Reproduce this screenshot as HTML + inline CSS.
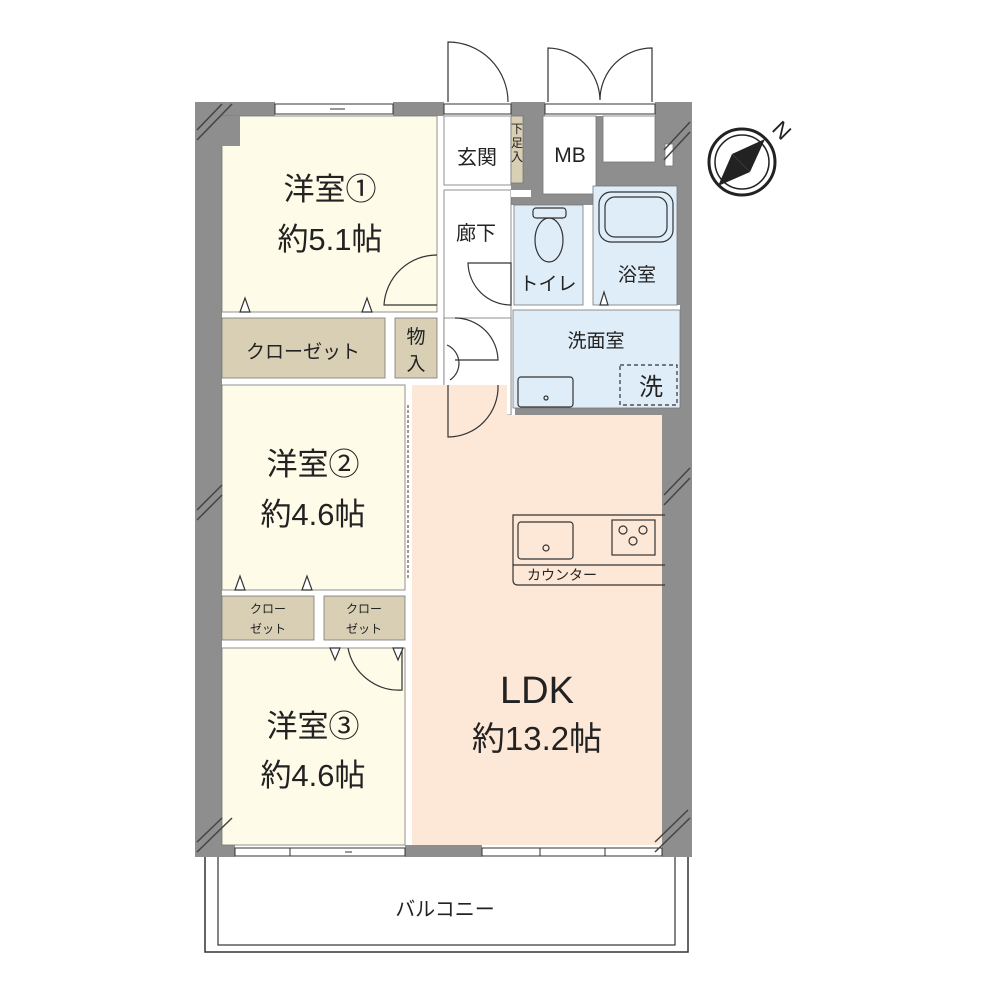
<!DOCTYPE html>
<html><head><meta charset="utf-8"><style>
html,body{margin:0;padding:0;background:#fff;}
svg{display:block;}
text{font-family:"Liberation Sans","Noto Sans CJK JP",sans-serif;fill:#222;}
</style></head><body>
<svg width="1000" height="1000" viewBox="0 0 1000 1000" xmlns="http://www.w3.org/2000/svg">
<!-- balcony -->
<rect x="205" y="855" width="483" height="97" fill="#fff" stroke="#333" stroke-width="1.5"/>
<rect x="218" y="855" width="457" height="90" fill="#fff" stroke="#333" stroke-width="1.2"/>
<!-- outer walls -->
<rect x="195" y="102" width="497" height="755" fill="#8e8e8e"/>
<!-- white wall gaps -->
<g fill="#fff">
<rect x="222" y="312" width="215" height="6"/>
<rect x="222" y="378" width="222" height="7"/>
<rect x="222" y="590" width="190" height="6"/>
<rect x="222" y="640" width="190" height="8"/>
<rect x="385" y="312" width="10" height="70"/>
<rect x="314" y="590" width="10" height="55"/>
<rect x="405" y="385" width="7" height="460"/>
<rect x="437" y="116" width="7" height="300"/>
<rect x="444" y="185" width="67" height="5"/>
<rect x="511" y="205" width="3" height="210"/>
<rect x="513" y="305" width="167" height="5"/>
<rect x="583" y="205" width="10" height="100"/>
<rect x="507" y="408" width="8" height="42"/>
<rect x="275" y="102" width="118" height="14"/>
<rect x="444" y="102" width="67" height="14"/>
<rect x="545" y="102" width="110" height="14"/>
<rect x="235" y="845" width="170" height="12"/>
<rect x="482" y="845" width="180" height="12"/>
</g>
<!-- rooms -->
<g stroke="#777" stroke-width="0.8">
<rect x="222" y="116" width="215" height="196" fill="#fefbe8"/>
<rect x="444" y="116" width="67" height="69" fill="#fff"/>
<rect x="511" y="116" width="12" height="67" fill="#d8cfb5"/>
<rect x="444" y="190" width="67" height="225" fill="#fff"/>
<rect x="543" y="116" width="53" height="78" fill="#fff"/>
<rect x="603" y="116" width="52" height="46" fill="#fff"/>
<rect x="514" y="205" width="69" height="100" fill="#deedf8"/>
<rect x="593" y="186" width="84" height="119" fill="#deedf8"/>
<rect x="513" y="310" width="167" height="98" fill="#deedf8"/>
<rect x="222" y="318" width="163" height="60" fill="#d8cfb5"/>
<rect x="395" y="318" width="42" height="60" fill="#d8cfb5"/>
<rect x="444" y="318" width="67" height="97" fill="#fff"/>
<rect x="222" y="385" width="183" height="205" fill="#fefbe8"/>
<rect x="222" y="596" width="92" height="44" fill="#d8cfb5"/>
<rect x="324" y="596" width="81" height="44" fill="#d8cfb5"/>
<rect x="222" y="648" width="183" height="197" fill="#fefbe8"/>
</g>
<rect x="412" y="415" width="250" height="430" fill="#fde8d8"/>
<rect x="412" y="385" width="95" height="30" fill="#fde8d8"/>
<rect x="195" y="116" width="45" height="30" fill="#8e8e8e"/>
<rect x="511" y="190" width="20" height="7" fill="#fff"/>
<rect x="665" y="144" width="8" height="22" fill="#fff" stroke="#777" stroke-width="0.8"/>
<!-- window lines -->
<g stroke="#333" stroke-width="1" fill="none">
<rect x="275" y="104" width="118" height="10"/>
<line x1="330" y1="109" x2="345" y2="109"/>
<rect x="235" y="848" width="170" height="8"/>
<line x1="290" y1="848" x2="290" y2="856"/><line x1="345" y1="852" x2="352" y2="852"/>
<rect x="482" y="848" width="180" height="8"/>
<line x1="540" y1="848" x2="540" y2="856"/><line x1="605" y1="848" x2="605" y2="856"/>
<rect x="444" y="104" width="67" height="10"/>
<rect x="545" y="104" width="110" height="10"/>
<line x1="408" y1="405" x2="408" y2="580" stroke-dasharray="3 2"/>
</g>
<!-- hatched corners -->
<g stroke="#444" stroke-width="1.5">
<line x1="197" y1="130" x2="222" y2="104"/><line x1="197" y1="140" x2="232" y2="104"/>
<line x1="664" y1="150" x2="690" y2="122"/><line x1="664" y1="160" x2="690" y2="132"/>
<line x1="664" y1="495" x2="690" y2="468"/><line x1="664" y1="505" x2="690" y2="478"/>
<line x1="197" y1="510" x2="222" y2="485"/><line x1="197" y1="520" x2="222" y2="495"/>
<line x1="197" y1="852" x2="232" y2="818"/><line x1="197" y1="842" x2="222" y2="818"/>
<line x1="655" y1="852" x2="690" y2="818"/><line x1="655" y1="842" x2="688" y2="810"/>
</g>
<!-- doors -->
<g stroke="#333" stroke-width="1.2" fill="none">
<path d="M448 102 L448 42 A60 60 0 0 1 508 102"/>
<path d="M548 102 L548 48 A53 53 0 0 1 600 100 A52 52 0 0 1 652 48 L652 102"/>
<path d="M437 255 A53 53 0 0 0 384 305 L437 305"/>
<path d="M468 263 A43 43 0 0 0 511 305 L511 263 Z"/>
<path d="M455 318 A43 43 0 0 1 498 360 L455 360"/>
<path d="M447 345 A20 20 0 0 1 450 380"/>
<path d="M448 385 L448 437 A50 50 0 0 0 498 385"/>
<path d="M348 648 A52 52 0 0 0 402 690 L402 648"/>
<rect x="599" y="192" width="74" height="50" rx="12"/>
<rect x="605" y="197" width="62" height="40" rx="10"/>
<rect x="533" y="208" width="33" height="10" rx="3"/>
<ellipse cx="549" cy="240" rx="14" ry="22"/>
<rect x="518" y="377" width="55" height="30" rx="3"/>
<circle cx="546" cy="398" r="2"/>
<rect x="620" y="365" width="57" height="40" stroke-dasharray="4 3"/>
<path d="M665 515 L513 515 L513 580 Q513 585 518 585 L665 585"/>
<line x1="513" y1="565" x2="665" y2="565"/>
<rect x="518" y="522" width="55" height="37" rx="3"/>
<circle cx="546" cy="548" r="3"/>
<rect x="612" y="520" width="43" height="35"/>
<circle cx="623" cy="530" r="4"/><circle cx="643" cy="530" r="4"/><circle cx="633" cy="541" r="4"/>
<path d="M240 312 L245 298 L250 312 Z M362 312 L367 298 L372 312 Z M600 305 L604 292 L608 305 Z M235 590 L240 576 L245 590 Z M302 590 L307 576 L312 590 Z M330 648 L335 660 L340 648 Z M393 648 L398 660 L403 648 Z" fill="#fff"/>
</g>
<!-- compass -->
<circle cx="742" cy="162" r="33" fill="#fff" stroke="#222" stroke-width="3"/>
<circle cx="742" cy="162" r="27" fill="none" stroke="#222" stroke-width="1.5"/>
<path d="M765 139 L750 172 L732 154 Z" fill="#222"/>
<path d="M718 186 L750 172 L732 154 Z" fill="#222"/>
<text x="775" y="140" font-size="22" transform="rotate(45 785 130)">N</text>
<!-- labels -->
<g text-anchor="middle">
<text x="330" y="200" font-size="31">洋室①</text>
<text x="330" y="250" font-size="31">約5.1帖</text>
<text x="477" y="164" font-size="20">玄関</text>
<text x="517" y="133" font-size="12">下</text><text x="517" y="147" font-size="12">足</text><text x="517" y="161" font-size="12">入</text>
<text x="570" y="162" font-size="21">MB</text>
<text x="476" y="240" font-size="20">廊下</text>
<text x="548" y="290" font-size="19">トイレ</text>
<text x="637" y="281" font-size="19">浴室</text>
<text x="596" y="347" font-size="19">洗面室</text>
<text x="651" y="395" font-size="24">洗</text>
<text x="303" y="358" font-size="19">クローゼット</text>
<text x="416" y="343" font-size="19">物</text><text x="416" y="370" font-size="19">入</text>
<text x="313" y="475" font-size="31">洋室②</text>
<text x="313" y="525" font-size="31">約4.6帖</text>
<text x="268" y="613" font-size="12">クロー</text><text x="268" y="633" font-size="12">ゼット</text>
<text x="364" y="613" font-size="12">クロー</text><text x="364" y="633" font-size="12">ゼット</text>
<text x="313" y="737" font-size="31">洋室③</text>
<text x="313" y="786" font-size="31">約4.6帖</text>
<text x="537" y="703" font-size="38">LDK</text>
<text x="537" y="750" font-size="33">約13.2帖</text>
<text x="562" y="580" font-size="14">カウンター</text>
<text x="445" y="916" font-size="20">バルコニー</text>
</g>
</svg>
</body></html>
